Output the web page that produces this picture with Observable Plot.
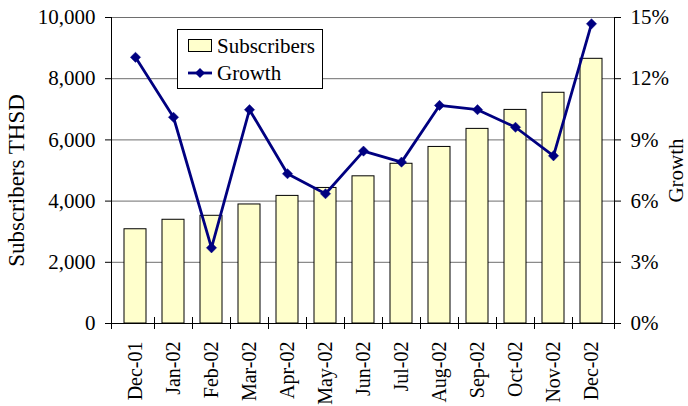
<!DOCTYPE html>
<html>
<head>
<meta charset="utf-8">
<script src="https://cdn.jsdelivr.net/npm/d3@7"></script>
<script src="https://cdn.jsdelivr.net/npm/@observablehq/plot@0.6"></script>
<style>
  html, body { margin: 0; padding: 0; background: #fff; }
  #wrap { position: relative; width: 688px; height: 406px; }
  #wrap svg text { font-family: "Liberation Serif", "Times New Roman", Times, serif !important; }
  #legend {
    position: absolute; left: 177px; top: 29px; width: 144px; height: 58px;
    border: 1px solid #000; background: #fff;
    font-family: "Liberation Serif", "Times New Roman", Times, serif; font-size: 21px; color: #000;
  }
  .row { position: absolute; left: 10px; display: flex; align-items: center; white-space: nowrap; line-height: 24px; }
  .row svg { margin-right: 5px; }
</style>
</head>
<body>
<div id="wrap"></div>
<script>
const months = ["Dec-01","Jan-02","Feb-02","Mar-02","Apr-02","May-02","Jun-02","Jul-02","Aug-02","Sep-02","Oct-02","Nov-02","Dec-02"];
const subscribers = [3080, 3390, 3520, 3890, 4170, 4430, 4810, 5220, 5770, 6360, 6980, 7540, 8650];
const growth = [13.05, 10.11, 3.71, 10.48, 7.34, 6.36, 8.45, 7.91, 10.69, 10.48, 9.62, 8.22, 14.69];
const leftTicks = [0, 2000, 4000, 6000, 8000, 10000];
const rightTicks = [0, 3, 6, 9, 12, 15];
const seriesNames = ["Subscribers", "Growth"];
const yTitle = "Subscribers THSD";
const y2Title = "Growth";

const leftMax = 10000, rightMax = 15;
const toLeft = g => g * leftMax / rightMax;

const data = months.map((m, i) => ({month: m, subs: subscribers[i], growth: growth[i]}));

const BAR = "#FFFFCC", LINE = "#000080", GRID = "#6e6e6e";
const FONT = "Liberation Serif, Times New Roman, serif";

function frameLines(index, scales, values, dimensions) {
  const {width, height, marginLeft, marginRight, marginTop, marginBottom} = dimensions;
  const left = marginLeft, right = width - marginRight, bottom = height - marginBottom;
  const x = scales.x;
  const n = months.length;
  let bounds;
  if (x && x.step && x.bandwidth) {
    const step = x.step(), bw = x.bandwidth();
    bounds = months.map(m => x(m) - (step - bw) / 2);
    bounds.push(x(months[n - 1]) + bw + (step - bw) / 2);
  } else {
    bounds = d3.range(n + 1).map(i => left + i * (right - left) / n);
  }
  const g = d3.create("svg:g").attr("stroke", "#000").attr("stroke-width", 1).attr("fill", "none");
  g.append("line").attr("x1", left + 0.5).attr("x2", left + 0.5).attr("y1", marginTop).attr("y2", bottom + 6);
  g.append("line").attr("x1", right + 0.5).attr("x2", right + 0.5).attr("y1", marginTop).attr("y2", bottom + 6);
  g.append("line").attr("x1", left - 6).attr("x2", right + 6).attr("y1", bottom + 0.5).attr("y2", bottom + 0.5);
  for (const b of bounds.slice(1, n)) {
    g.append("line").attr("x1", Math.round(b) + 0.5).attr("x2", Math.round(b) + 0.5).attr("y1", bottom - 6).attr("y2", bottom + 6);
  }
  return g.node();
}

const chart = Plot.plot({
  width: 688,
  height: 406,
  marginLeft: 111,
  marginRight: 74,
  marginTop: 17,
  marginBottom: 83,
  style: {background: "#fff", color: "#000", fontFamily: FONT, fontSize: "21px", overflow: "visible"},
  x: {type: "band", domain: months, paddingInner: 0.43, paddingOuter: 0.215},
  y: {domain: [0, leftMax]},
  marks: [
    Plot.ruleY(leftTicks.slice(1), {stroke: GRID, strokeWidth: 1}),
    Plot.barY(data, {x: "month", y: "subs", fill: BAR, stroke: "#000", strokeWidth: 1}),
    Plot.line(data, {x: "month", y: d => toLeft(d.growth), stroke: LINE, strokeWidth: 2.8, strokeLinejoin: "round"}),
    Plot.dot(data, {x: "month", y: d => toLeft(d.growth), symbol: "diamond2", r: 4.6, fill: LINE, stroke: LINE, strokeWidth: 0.5}),
    frameLines,
    Plot.axisY({ticks: leftTicks, tickFormat: d3.format(","), tickSize: 6, tickPadding: 10, label: null, fontSize: 21, fontFamily: FONT}),
    Plot.axisY({anchor: "right", ticks: rightTicks.map(toLeft), tickFormat: d => Math.round(d * rightMax / leftMax) + "%", tickSize: 6, tickPadding: 10, label: null, fontSize: 21, fontFamily: FONT}),
    Plot.axisX({tickRotate: -90, tickSize: 0, tickPadding: 18, label: null, fontSize: 20, fontFamily: FONT}),
    Plot.text([yTitle], {frameAnchor: "left", textAnchor: "middle", rotate: -90, dx: -95, dy: 10, fontSize: 23, fontFamily: FONT}),
    Plot.text([y2Title], {frameAnchor: "right", textAnchor: "middle", rotate: -90, dx: 62, dy: 0, fontSize: 21, fontFamily: FONT})
  ]
});

const wrap = document.getElementById("wrap");
wrap.appendChild(chart);

const legend = document.createElement("div");
legend.id = "legend";
legend.innerHTML = `
  <div class="row" style="top:4px;">
    <svg width="24" height="14"><rect x="0.5" y="0.5" width="23" height="12" fill="${BAR}" stroke="#000"/></svg>
    <span>${seriesNames[0]}</span>
  </div>
  <div class="row" style="top:31px;">
    <svg width="24" height="14"><line x1="0" x2="24" y1="7" y2="7" stroke="${LINE}" stroke-width="2.8"/><path d="M12,2 L17,7 L12,12 L7,7 Z" fill="${LINE}"/></svg>
    <span>${seriesNames[1]}</span>
  </div>`;
wrap.appendChild(legend);
</script>
</body>
</html>
